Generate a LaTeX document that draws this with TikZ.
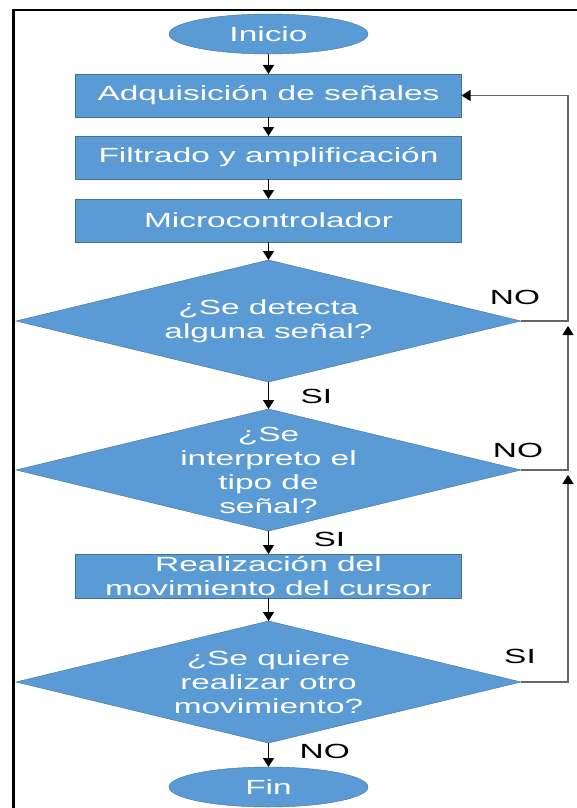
\documentclass[tikz,border=0pt]{standalone}
\usepackage{fontspec}
\setmainfont{Liberation Sans}[FakeStretch=1.63]
\usepackage{tikz}
\usetikzlibrary{positioning,arrows.meta,shapes.geometric}
\definecolor{flowblue}{HTML}{5B9BD5}
\definecolor{flowedge}{HTML}{41719C}
\newcommand{\flowfont}{\fontsize{20.5}{24}\selectfont}
\tikzset{
  procbox/.style={rectangle, draw=flowedge, fill=flowblue, text=white, minimum width=386pt, minimum height=43pt, inner sep=1pt, outer sep=0pt, align=center, font=\flowfont},
  terminal/.style={ellipse, draw=flowedge, fill=flowblue, text=white, minimum width=199pt, minimum height=40pt, inner sep=0pt, outer sep=0pt, font=\flowfont},
  decision/.style={diamond, draw=flowedge, fill=flowblue, minimum width=505pt, minimum height=122pt, inner sep=0pt, outer sep=0pt},
  qtext/.style={text=white, align=center, font=\flowfont, inner sep=0pt},
  answer/.style={font=\flowfont, inner sep=0pt},
  fwd/.style={-{Triangle[width=11pt,length=9pt]}, line width=1.3pt},
  fback/.style={-{Triangle[width=11pt,length=9pt,color=black]}, line width=1.2pt, draw=black!60},
  frame/.style={line width=2.8pt},
}
\begin{document}
\begin{tikzpicture}
  \useasboundingbox (0,0) rectangle (577pt,-808pt);
  \draw[frame] (577pt,-10pt) -- (13.5pt,-10pt) -- (13.5pt,-808pt);

  \node[terminal] (start) at (268.5pt,-34pt) {Inicio};
  \node[procbox] (acq) [below=20pt of start] {Adquisición de señales};
  \node[procbox] (filt) [below=19pt of acq] {Filtrado y amplificación};
  \node[procbox] (mcu) [below=20pt of filt] {Microcontrolador};
  \node[decision, label={[qtext]center:¿Se detecta\\alguna señal?}] (q1) [below=18pt of mcu] {};
  \node[decision, label={[qtext]center:¿Se\\interpreto el\\tipo de\\señal?}] (q2) [below=27pt of q1] {};
  \node[procbox, minimum height=44pt] (move) [below=23pt of q2] {Realización del\\movimiento del cursor};
  \node[decision, label={[qtext]center:¿Se quiere\\realizar otro\\movimiento?}] (q3) [below=23pt of move] {};
  \node[terminal] (stop) [below=24pt of q3] {Fin};
  \coordinate (rail) at (568pt,-10pt);

  \draw[fwd] (start) -- (acq);
  \draw[fwd] (acq) -- (filt);
  \draw[fwd] (filt) -- (mcu);
  \draw[fwd] (mcu) -- (q1);
  \draw[fwd] (q1) -- (q2);
  \draw[fwd] (q2) -- (move);
  \draw[fwd] (move) -- (q3);
  \draw[fwd] (q3) -- (stop);

  % returns along the right side
  \draw[fback] (q1.east) -- (q1.east -| rail) |- (acq.east);
  \draw[fback, shorten >=5pt] (q2.east) -| (q1.east -| rail);
  \draw[fback, shorten >=5pt] (q3.east) -| (q2.east -| rail);

  \node[answer] (no1) at ([xshift=-6pt,yshift=24pt]q1.east) {NO};
  \node[answer] (no2) at ([xshift=-3pt,yshift=20pt]q2.east) {NO};
  \node[answer] (si3) at ([xshift=-1pt,yshift=26pt]q3.east) {SI};
  \node[answer, anchor=west] (si1) at ([xshift=32pt,yshift=-14pt]q1.south) {SI};
  \node[answer, anchor=west] (si2) at ([xshift=45pt,yshift=-8pt]q2.south) {SI};
  \node[answer, anchor=west] (no3) at ([xshift=31pt,yshift=-8pt]q3.south) {NO};
\end{tikzpicture}
\end{document}
